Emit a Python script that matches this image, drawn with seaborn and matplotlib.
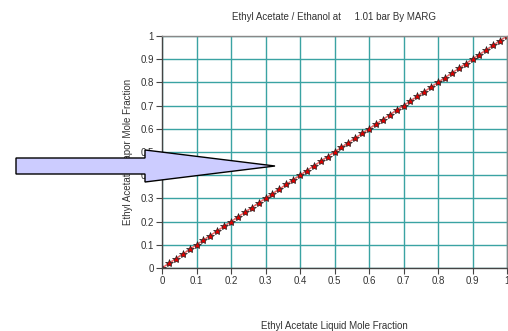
import matplotlib
matplotlib.use("Agg")
import matplotlib.pyplot as plt
import seaborn as sns
from matplotlib.patches import Polygon

# liquid / vapour mole fractions of ethyl acetate
x_liq = [0.00, 0.02, 0.04, 0.06, 0.08, 0.10, 0.12, 0.14, 0.16, 0.18,
         0.20, 0.22, 0.24, 0.26, 0.28, 0.30, 0.32, 0.34, 0.36, 0.38,
         0.40, 0.42, 0.44, 0.46, 0.48, 0.50, 0.52, 0.54, 0.56, 0.58,
         0.60, 0.62, 0.64, 0.66, 0.68, 0.70, 0.72, 0.74, 0.76, 0.78,
         0.80, 0.82, 0.84, 0.86, 0.88, 0.90, 0.92, 0.94, 0.96, 0.98, 1.00]
y_vap = [0.00, 0.02, 0.04, 0.06, 0.08, 0.10, 0.12, 0.14, 0.16, 0.18,
         0.20, 0.22, 0.24, 0.26, 0.28, 0.30, 0.32, 0.34, 0.36, 0.38,
         0.40, 0.42, 0.44, 0.46, 0.48, 0.50, 0.52, 0.54, 0.56, 0.58,
         0.60, 0.62, 0.64, 0.66, 0.68, 0.70, 0.72, 0.74, 0.76, 0.78,
         0.80, 0.82, 0.84, 0.86, 0.88, 0.90, 0.92, 0.94, 0.96, 0.98, 1.00]
diag = [0.0, 1.0]
ticks = [0, 0.1, 0.2, 0.3, 0.4, 0.5, 0.6, 0.7, 0.8, 0.9, 1]
tick_labels = ["0", "0.1", "0.2", "0.3", "0.4", "0.5", "0.6", "0.7", "0.8", "0.9", "1"]

sns.set_style("white")
plt.rcParams["font.family"] = ["Liberation Sans", "DejaVu Sans"]

fig = plt.figure(figsize=(5.08, 3.31), dpi=100)
ax = fig.add_axes([162 / 508, 1 - 268 / 331, 345 / 508, 232 / 331])

# grid
ax.set_xticks(ticks)
ax.set_yticks(ticks)
ax.set_xticklabels(tick_labels, fontsize=7, color="#333333")
ax.set_yticklabels(tick_labels, fontsize=7, color="#333333")
ax.grid(True, color="#3aa3a3", linewidth=1.0)
ax.set_axisbelow(True)

# y = x reference line
sns.lineplot(x=diag, y=diag, ax=ax, color="#2a9a9a", linestyle=(0, (2, 1.5)),
             linewidth=1.0)

# equilibrium curve
sns.lineplot(x=x_liq, y=y_vap, ax=ax, color="#ff6060", linewidth=1.0,
             marker="*", markersize=6, markerfacecolor="#dd0000",
             markeredgecolor="#222222", markeredgewidth=0.5)

ax.set_xlim(0, 1)
ax.set_ylim(0, 1)

for side in ["left", "bottom"]:
    ax.spines[side].set_color("#444444")
    ax.spines[side].set_linewidth(1.0)
for side in ["top", "right"]:
    ax.spines[side].set_color("#888888")
    ax.spines[side].set_linewidth(1.0)

ax.tick_params(axis="both", length=4, width=0.8, color="#444444",
               pad=2, left=True, bottom=True)

ax.set_xlabel("Ethyl Acetate Liquid Mole Fraction", fontsize=7, color="#333333",
              labelpad=25)
ax.set_ylabel("Ethyl Acetate Vapor Mole Fraction", fontsize=7, color="#333333",
              labelpad=5)

fig.text(334 / 508, 1 - 17 / 331, "Ethyl Acetate / Ethanol at     1.01 bar By MARG",
         ha="center", va="center", fontsize=7, color="#333333")

# big arrow over the left side
pts = [(16, 158), (145, 158), (145, 150), (275, 166),
       (145, 182), (145, 174), (16, 174)]
pts = [(px / 508, 1 - py / 331) for px, py in pts]
fig.patches.append(Polygon(pts, closed=True, transform=fig.transFigure,
                           facecolor="#ccccff", edgecolor="black",
                           linewidth=1.0, zorder=10))

fig.savefig("out.png", dpi=100)
